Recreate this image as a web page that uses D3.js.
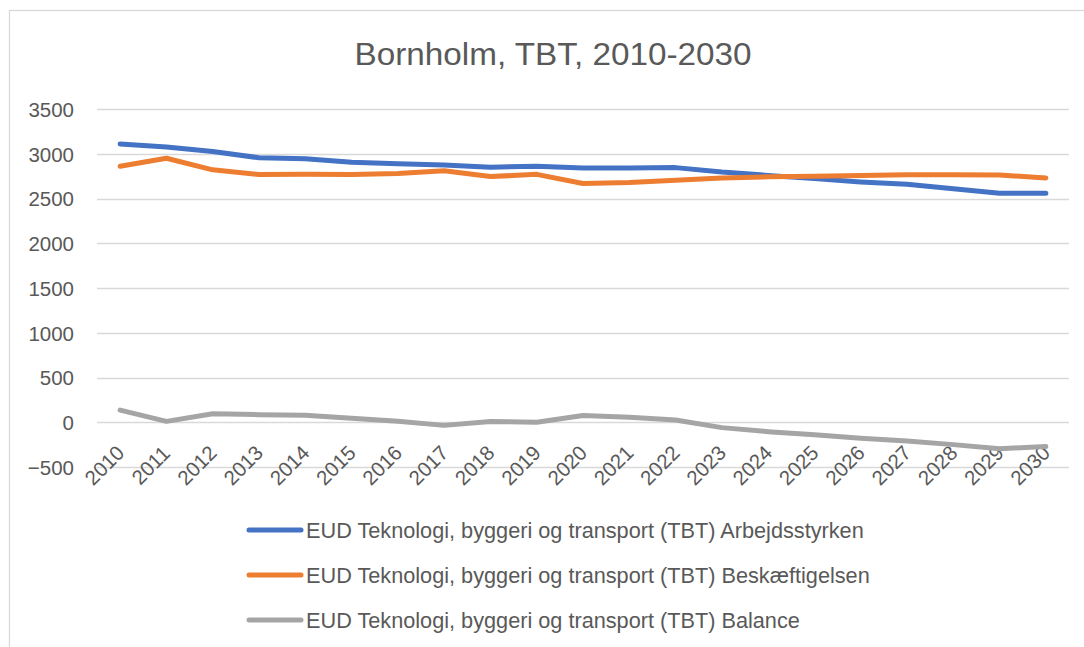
<!DOCTYPE html>
<html lang="da">
<head>
    <meta charset="UTF-8">
    <title>Bornholm, TBT, 2010-2030</title>
    <script src="https://d3js.org/d3.v7.min.js"></script>
    <style>
        body {
            margin: 0;
            padding: 0;
            background: #fff;
            font-family: "Liberation Sans", Arial, sans-serif;
        }

        .grid line {
            stroke: #d9d9d9;
            stroke-width: 1.3px;
        }

        .axis text {
            fill: #595959;
            font-size: 20.5px;
        }

        .series {
            fill: none;
            stroke-width: 5px;
            stroke-linejoin: round;
            stroke-linecap: round;
        }
    </style>
</head>
<body>
    <div id="chart"></div>

    <script>
        const years = ["2010", "2011", "2012", "2013", "2014", "2015", "2016", "2017", "2018", "2019", "2020",
            "2021", "2022", "2023", "2024", "2025", "2026", "2027", "2028", "2029", "2030"];

        const arbejdsstyrken = [3110, 3075, 3025, 2955, 2945, 2905, 2888, 2875, 2850, 2860, 2842,
            2842, 2845, 2795, 2758, 2722, 2685, 2658, 2610, 2558, 2558];
        const beskaeftigelsen = [2860, 2950, 2820, 2768, 2772, 2768, 2780, 2810, 2745, 2770, 2668,
            2680, 2705, 2730, 2742, 2748, 2758, 2765, 2765, 2762, 2730];
        const balance = [135, 10, 95, 85, 78, 45, 10, -35, 8, 0, 75,
            55, 25, -60, -105, -140, -178, -210, -250, -295, -272];

        const yTicks = [-500, 0, 500, 1000, 1500, 2000, 2500, 3000, 3500];

        const seriesNames = [
            "EUD Teknologi, byggeri og transport (TBT) Arbejdsstyrken",
            "EUD Teknologi, byggeri og transport (TBT) Beskæftigelsen",
            "EUD Teknologi, byggeri og transport (TBT) Balance"
        ];
        const seriesColors = ["#4472C4", "#ED7D31", "#A5A5A5"];

        const width = 1084;
        const height = 647;
        const plot = { left: 97, right: 1069, top: 109, bottom: 467 };

        const svg = d3.select("#chart")
            .append("svg")
            .attr("width", width)
            .attr("height", height);

        // chart frame (only top and left edges are visible in the window)
        svg.append("rect")
            .attr("x", 9.5)
            .attr("y", 10.5)
            .attr("width", width + 20)
            .attr("height", height + 20)
            .attr("fill", "#fff")
            .attr("stroke", "#d9d9d9")
            .attr("stroke-width", 1.3);

        svg.append("text")
            .attr("x", 553)
            .attr("y", 65)
            .attr("text-anchor", "middle")
            .attr("fill", "#595959")
            .attr("textLength", 397)
            .attr("lengthAdjust", "spacingAndGlyphs")
            .style("font-size", "31px")
            .text("Bornholm, TBT, 2010-2030");

        const x = d3.scaleBand()
            .domain(years)
            .range([plot.left, plot.right]);

        const y = d3.scaleLinear()
            .domain([-500, 3500])
            .range([plot.bottom, plot.top]);

        // horizontal gridlines
        svg.append("g")
            .attr("class", "grid")
            .selectAll("line")
            .data(yTicks)
            .enter().append("line")
            .attr("x1", plot.left)
            .attr("x2", plot.right)
            .attr("y1", d => Math.round(y(d)) + 0.5)
            .attr("y2", d => Math.round(y(d)) + 0.5);

        // y axis labels
        const yAxis = svg.append("g")
            .attr("class", "axis")
            .attr("transform", `translate(${plot.left - 23},0)`)
            .call(d3.axisLeft(y).tickValues(yTicks).tickSize(0).tickPadding(0).tickFormat(d3.format("d")));
        yAxis.select(".domain").remove();
        yAxis.selectAll("text").attr("dy", "0.36em");

        // x axis labels, rotated
        svg.append("g")
            .attr("class", "axis")
            .selectAll("text")
            .data(years)
            .enter().append("text")
            .attr("text-anchor", "middle")
            .attr("dominant-baseline", "central")
            .attr("transform", d => `translate(${x(d) + x.bandwidth() / 2 - 16},${plot.bottom - 2}) rotate(-45)`)
            .text(d => d);

        const line = d3.line()
            .x((d, i) => x(years[i]) + x.bandwidth() / 2)
            .y(d => y(d));

        const allSeries = [arbejdsstyrken, beskaeftigelsen, balance];

        svg.append("g")
            .selectAll("path")
            .data(allSeries)
            .enter().append("path")
            .attr("class", "series")
            .attr("stroke", (d, i) => seriesColors[i])
            .attr("d", line);

        // legend
        const legend = svg.append("g")
            .selectAll("g")
            .data(seriesNames)
            .enter().append("g")
            .attr("transform", (d, i) => `translate(0,${530 + i * 45})`);

        legend.append("line")
            .attr("x1", 249)
            .attr("x2", 301)
            .attr("stroke", (d, i) => seriesColors[i])
            .attr("stroke-width", 5)
            .attr("stroke-linecap", "round");

        legend.append("text")
            .attr("x", 306)
            .attr("dy", "0.36em")
            .attr("fill", "#595959")
            .style("font-size", "21.7px")
            .text(d => d);
    </script>
</body>
</html>
